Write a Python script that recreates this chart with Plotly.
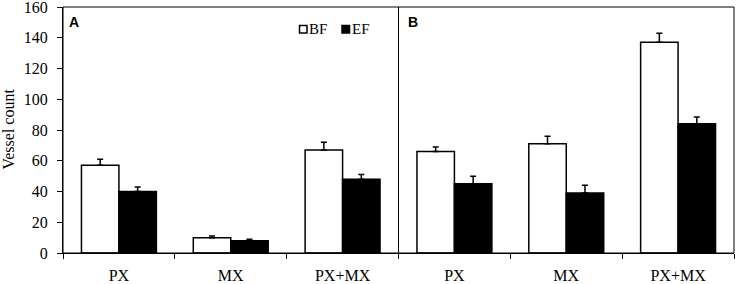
import plotly.graph_objects as go

categories = ["PX", "MX", "PX+MX"]
bf_a = [57, 10, 67]
ef_a = [40, 8, 48]
bf_a_err = [4, 1, 5]
ef_a_err = [3, 1, 3]
bf_b = [66, 71, 137]
ef_b = [45, 39, 84]
bf_b_err = [3, 5, 6]
ef_b_err = [5, 5, 4.5]
yticks = [0, 20, 40, 60, 80, 100, 120, 140, 160]

SERIF = "Liberation Serif"
SANS = "Liberation Sans"
fig = go.Figure()

def add(x, y, err, color, xa):
    fig.add_trace(go.Bar(
        x=x, y=y, xaxis=xa, yaxis="y",
        marker=dict(color=color, line=dict(color="black", width=1.5)),
        error_y=dict(type="data", array=err, arrayminus=[0]*len(err), symmetric=False,
                     color="black", thickness=1.5, width=3),
        showlegend=False,
    ))

add(categories, bf_a, bf_a_err, "white", "x")
add(categories, ef_a, ef_a_err, "black", "x")
add(categories, bf_b, bf_b_err, "white", "x2")
add(categories, ef_b, ef_b_err, "black", "x2")

xcommon = dict(type="category", showline=True, linecolor="black", linewidth=1,
               ticks="outside", tickson="boundaries", ticklen=5, tickcolor="black",
               tickfont=dict(family=SERIF, size=16, color="black"), showgrid=False,
               zeroline=False, automargin=False, ticklabelstandoff=8)

fig.update_layout(
    width=737, height=284,
    margin=dict(l=63, r=3, t=7, b=31),
    font=dict(family=SERIF, color="black"),
    paper_bgcolor="white", plot_bgcolor="white",
    barmode="group", bargap=0.33, bargroupgap=0,
    xaxis=dict(domain=[0, 0.5], anchor="y", **xcommon),
    xaxis2=dict(domain=[0.5, 1], anchor="y", **xcommon),
    yaxis=dict(range=[0, 160], tickvals=yticks, showline=True, linecolor="black", linewidth=1,
               ticks="outside", ticklen=5, tickcolor="black", showgrid=False, zeroline=False,
               automargin=False, ticklabeloverflow="allow", ticklabelstandoff=6,
               tickfont=dict(family=SERIF, size=16, color="black")),
    shapes=[
        dict(type="rect", xref="paper", yref="paper", x0=0, x1=1, y0=0, y1=1,
             line=dict(color="black", width=1)),
        dict(type="line", xref="paper", yref="paper", x0=0.5, x1=0.5, y0=0, y1=1,
             line=dict(color="black", width=1)),
        dict(type="rect", xref="paper", yref="paper", x0=0.3525, x1=0.3636, y0=0.894, y1=0.925,
             line=dict(color="black", width=1.5), fillcolor="white"),
        dict(type="rect", xref="paper", yref="paper", x0=0.4158, x1=0.427, y0=0.894, y1=0.925,
             line=dict(color="black", width=1.5), fillcolor="black"),
    ],
    annotations=[
        dict(text="Vessel count", xref="paper", yref="paper", x=-0.0812, y=0.504,
             xanchor="center", yanchor="middle", textangle=-90, showarrow=False,
             font=dict(family=SERIF, size=16, color="black")),
        dict(text="<b>A</b>", xref="paper", yref="paper", x=0.0164, y=0.937, xanchor="center",
             yanchor="middle", showarrow=False, font=dict(family=SANS, size=14, color="black")),
        dict(text="<b>B</b>", xref="paper", yref="paper", x=0.5216, y=0.937, xanchor="center",
             yanchor="middle", showarrow=False, font=dict(family=SANS, size=14, color="black")),
        dict(text="BF", xref="paper", yref="paper", x=0.3636, y=0.9106, xanchor="left",
             yanchor="middle", showarrow=False, font=dict(family=SERIF, size=15, color="black")),
        dict(text="EF", xref="paper", yref="paper", x=0.4275, y=0.9106, xanchor="left",
             yanchor="middle", showarrow=False, font=dict(family=SERIF, size=15, color="black")),
    ],
)

fig.write_html("out.html", config={"displayModeBar": False},
               post_script="document.body.style.margin='0';document.body.style.padding='0';"
                           "document.documentElement.style.overflow='hidden';")
